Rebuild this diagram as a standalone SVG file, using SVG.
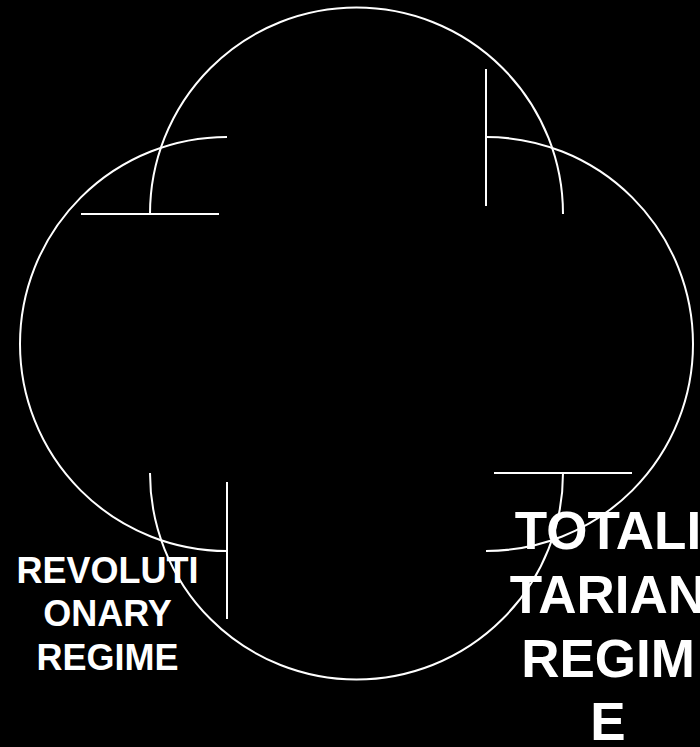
<svg xmlns="http://www.w3.org/2000/svg" width="700" height="747" viewBox="0 0 700 747">
<style>
.s{fill:none;stroke:#fff;stroke-width:2}
.t{font-family:"Liberation Sans",Arial,sans-serif;font-weight:bold;fill:#fff;text-anchor:middle}
</style>
<rect width="700" height="747" fill="#000"/>
<g id="arcs">
<path class="s" d="M150,214 A206.5,206.5 0 0 1 563,214"/>
<path class="s" d="M486,137 A207,207 0 0 1 486,551"/>
<path class="s" d="M563,473 A206.5,206.5 0 0 1 150,473"/>
<path class="s" d="M227,551 A207,207 0 0 1 227,137"/>
</g>
<g id="ticks">
<line class="s" x1="81" y1="214" x2="219" y2="214"/>
<line class="s" x1="486" y1="69" x2="486" y2="206"/>
<line class="s" x1="494" y1="473" x2="632" y2="473"/>
<line class="s" x1="227" y1="482" x2="227" y2="619"/>
</g>
<g id="label-revolutionary">
<text class="t" font-size="36" x="107.5" y="583">REVOLUTI</text>
<text class="t" font-size="36" x="107.5" y="626">ONARY</text>
<text class="t" font-size="36" x="107.5" y="670">REGIME</text>
</g>
<g id="label-totalitarian">
<text class="t" font-size="53" x="608" y="549">TOTALI</text>
<text class="t" font-size="53" x="608" y="613">TARIAN</text>
<text class="t" font-size="53" x="608" y="677">REGIM</text>
<text class="t" font-size="53" x="608" y="740">E</text>
</g>
</svg>
